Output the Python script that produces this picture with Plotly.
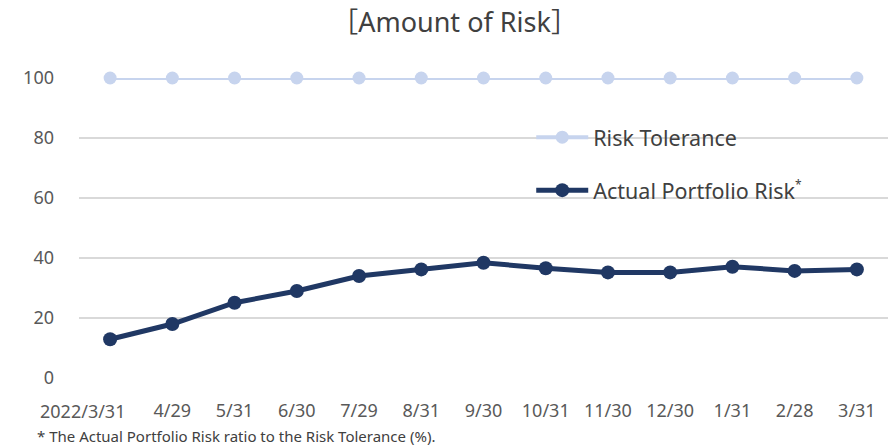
import plotly.graph_objects as go

# Month-end observation dates
dates = ["2022/3/31", "4/29", "5/31", "6/30", "7/29", "8/31", "9/30",
         "10/31", "11/30", "12/30", "1/31", "2/28", "3/31"]

# Risk tolerance is the 100 baseline
risk_tolerance = [100] * 13

# Actual portfolio risk as a share of the tolerance (%)
actual_risk = [12.9, 18.0, 25.1, 29.0, 34.0, 36.2, 38.4,
               36.6, 35.2, 35.2, 37.1, 35.7, 36.2]

y_ticks = [0, 20, 40, 60, 80, 100]

# The long first date is written separately (nudged left to clear "4/29")
x_ticktext = [""] + dates[1:]

FONT = "Noto Sans, Noto Sans CJK JP"
LIGHT = "#c7d4ee"
DARK = "#203864"
TICK_COLOR = "#595959"

fig = go.Figure()
fig.add_trace(go.Scatter(
    x=dates, y=risk_tolerance, name="Risk Tolerance", mode="lines+markers",
    line=dict(color=LIGHT, width=4), marker=dict(color=LIGHT, size=13),
    cliponaxis=False, legendgroup="a",
))
fig.add_trace(go.Scatter(
    x=dates, y=actual_risk,
    name="Actual Portfolio Risk<sup><span style='font-size:12px'>*</span></sup>",
    mode="lines+markers",
    line=dict(color=DARK, width=5), marker=dict(color=DARK, size=14),
    cliponaxis=False, legendgroup="b",
))

fig.update_layout(
    width=893, height=446,
    margin=dict(l=79, r=5, t=78, b=68),
    paper_bgcolor="white", plot_bgcolor="white",
    font=dict(family=FONT, color=TICK_COLOR, size=18),
    title=dict(text="［Amount of Risk］", x=0.509, xanchor="center",
               y=0.95, yanchor="middle", yref="container",
               font=dict(family=FONT, size=27, color="#404040")),
    showlegend=True,
    legend=dict(x=0.559, y=0.871, xanchor="left", yanchor="top",
                bgcolor="rgba(0,0,0,0)", font=dict(size=21.5, color="#404040"),
                traceorder="grouped", tracegroupgap=22, itemwidth=52),
    xaxis=dict(type="category", range=[-0.5, 12.5], showgrid=False,
               showline=False, zeroline=False, ticks="", tickangle=0,
               tickvals=dates, ticktext=x_ticktext,
               automargin=False, ticklabelstandoff=20,
               tickfont=dict(size=18)),
    yaxis=dict(range=[0, 100], tickvals=y_ticks, showgrid=True,
               gridcolor="#d9d9d9", gridwidth=1.5, zeroline=False,
               showline=False, ticks="", ticklabelstandoff=24,
               automargin=False, tickfont=dict(size=18)),
)

# First date label, under its category but shifted left
fig.add_annotation(
    text=dates[0], x=dates[0], y=y_ticks[0], xref="x", yref="y",
    xanchor="center", yanchor="middle", xshift=-28, yshift=-33,
    showarrow=False, font=dict(family=FONT, size=18, color=TICK_COLOR),
)

fig.add_annotation(
    text="* The Actual Portfolio Risk ratio to the Risk Tolerance (%).",
    xref="paper", yref="paper", x=-0.055, y=-0.193,
    xanchor="left", yanchor="middle", showarrow=False,
    font=dict(family=FONT, size=15, color="#404040"),
)

fig.write_html("out.html")
